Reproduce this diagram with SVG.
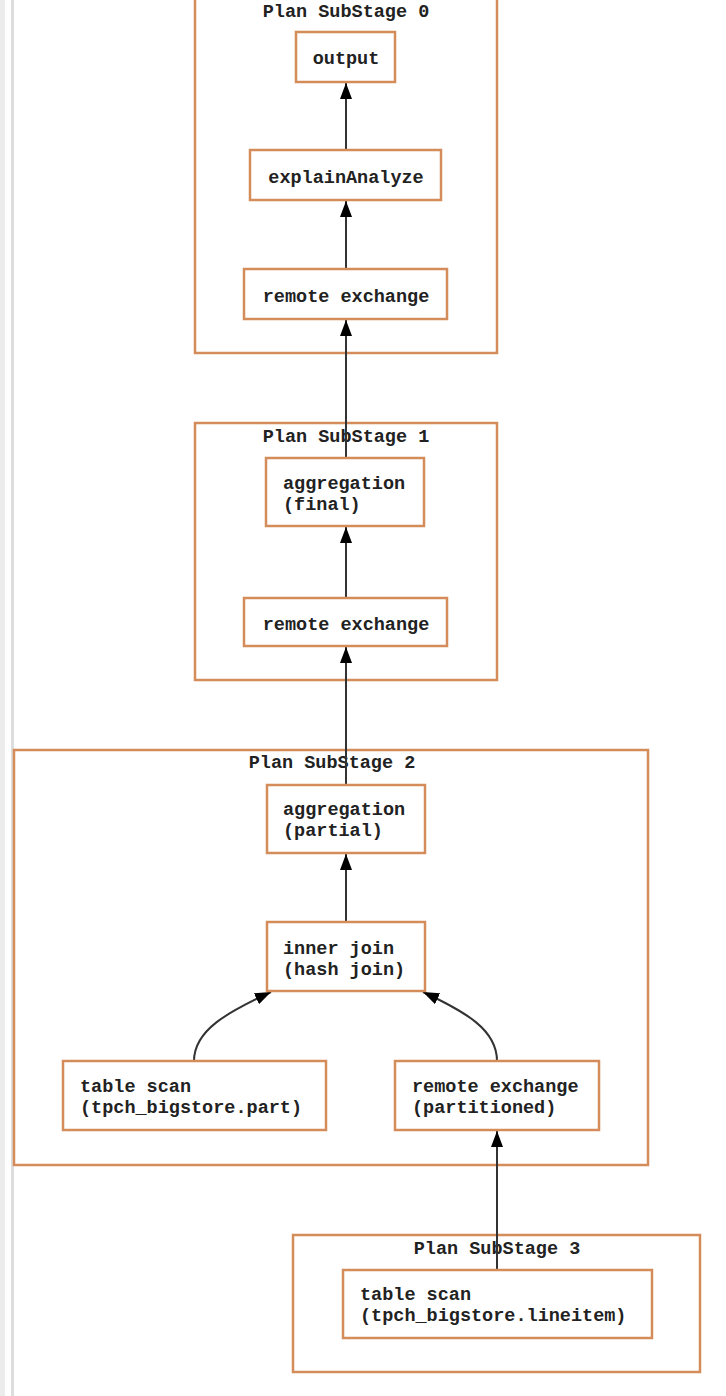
<svg xmlns="http://www.w3.org/2000/svg" width="726" height="1396" viewBox="0 0 726 1396">
<style>
.cl{fill:none;stroke:#d38c5a;stroke-width:2.5}
.nd{fill:#fff;stroke:#d38c5a;stroke-width:2.5}
.t{font-family:"Liberation Mono","Courier New",monospace;font-weight:bold;font-size:18.5px;fill:#222}
.c{text-anchor:middle}
.e{fill:none;stroke:#333;stroke-width:2}
</style>
<defs>
<marker id="ah" markerWidth="16" markerHeight="12" refX="16" refY="6" orient="auto" markerUnits="userSpaceOnUse" viewBox="0 0 16 12">
<path d="M0,0 L16,6 L0,12 Z" fill="#000"/>
</marker>
</defs>
<rect x="0" y="0" width="726" height="1396" fill="#fff"/>
<rect x="0" y="0" width="5" height="1396" fill="#ececec"/>
<rect x="11" y="0" width="3" height="1396" fill="#dddddd"/>

<g id="clusters">
<g id="stage0"><rect class="cl" x="195" y="-5" width="302" height="358"/><text class="t c" x="346" y="17">Plan SubStage 0</text></g>
<g id="stage1"><rect class="cl" x="195" y="423" width="302" height="257"/><text class="t c" x="346" y="442">Plan SubStage 1</text></g>
<g id="stage2"><rect class="cl" x="14" y="750" width="634" height="415"/><text class="t c" x="332" y="768">Plan SubStage 2</text></g>
<g id="stage3"><rect class="cl" x="293" y="1235" width="407" height="137"/><text class="t c" x="497" y="1254">Plan SubStage 3</text></g>
</g>

<g id="edges">
<path class="e" d="M346,150 L346,83" marker-end="url(#ah)"/>
<path class="e" d="M346,269 L346,201" marker-end="url(#ah)"/>
<path class="e" d="M346,458 L346,320" marker-end="url(#ah)"/>
<path class="e" d="M346,598 L346,527" marker-end="url(#ah)"/>
<path class="e" d="M346,785 L346,647" marker-end="url(#ah)"/>
<path class="e" d="M346,922 L346,854" marker-end="url(#ah)"/>
<path class="e" d="M194,1061 C194,1030 228,1012 271,992" marker-end="url(#ah)"/>
<path class="e" d="M497,1061 C497,1030 466,1012 423,992" marker-end="url(#ah)"/>
<path class="e" d="M497,1270 L497,1131" marker-end="url(#ah)"/>
</g>

<g id="n_output"><rect class="nd" x="296" y="32" width="99" height="50"/><text class="t c" x="346" y="64">output</text></g>
<g id="n_explain"><rect class="nd" x="250" y="150" width="191" height="50"/><text class="t c" x="346" y="183">explainAnalyze</text></g>
<g id="n_rex0"><rect class="nd" x="244" y="269" width="203" height="50"/><text class="t c" x="346" y="302">remote exchange</text></g>
<g id="n_aggfinal"><rect class="nd" x="266" y="458" width="158" height="68"/><text class="t" x="283" y="489">aggregation</text><text class="t" x="283" y="510">(final)</text></g>
<g id="n_rex1"><rect class="nd" x="244" y="598" width="203" height="48"/><text class="t c" x="346" y="630">remote exchange</text></g>
<g id="n_aggpartial"><rect class="nd" x="267" y="785" width="158" height="68"/><text class="t" x="283" y="815">aggregation</text><text class="t" x="283" y="836">(partial)</text></g>
<g id="n_join"><rect class="nd" x="267" y="922" width="158" height="69"/><text class="t" x="283" y="954">inner join</text><text class="t" x="283" y="975">(hash join)</text></g>
<g id="n_scanpart"><rect class="nd" x="63" y="1061" width="263" height="69"/><text class="t" x="80" y="1092">table scan</text><text class="t" x="80" y="1113">(tpch_bigstore.part)</text></g>
<g id="n_rexpart"><rect class="nd" x="395" y="1061" width="204" height="69"/><text class="t" x="412" y="1092">remote exchange</text><text class="t" x="412" y="1113">(partitioned)</text></g>
<g id="n_scanline"><rect class="nd" x="343" y="1270" width="309" height="68"/><text class="t" x="360" y="1300">table scan</text><text class="t" x="360" y="1321">(tpch_bigstore.lineitem)</text></g>
</svg>
